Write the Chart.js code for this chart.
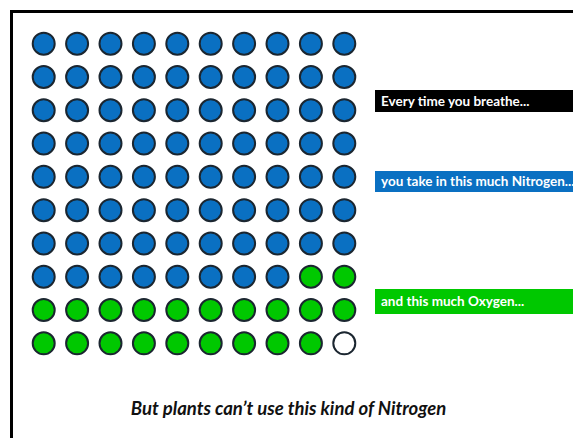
<!DOCTYPE html>
<html>
<head>
<meta charset="utf-8">
<script src="https://cdn.jsdelivr.net/npm/chart.js@4.4.1/dist/chart.umd.min.js"></script>
<style>
  html, body { margin: 0; padding: 0; background: #fff; }
  body { width: 573px; height: 438px; position: relative; overflow: hidden; font-family: Lato, "Open Sans", sans-serif; }
  #frame { position: absolute; left: 10px; top: 10px; width: 600px; height: 460px; border: 3px solid #000; box-sizing: border-box; }
  #wrap { position: absolute; left: 27px; top: 27px; width: 334px; height: 333px; }
  .lbl { position: absolute; left: 375px; right: 0; color: #fff; font-weight: 700; font-size: 13.5px; white-space: nowrap; overflow: hidden; box-sizing: border-box; padding-left: 6px; }
  #caption { position: absolute; left: 0; width: 573px; top: 397px; text-align: center; font-weight: 700; font-style: italic; font-size: 18.5px; color: #111; padding-left: 4px; box-sizing: border-box; }
</style>
</head>
<body>
<div id="frame"></div>
<div id="wrap"><canvas id="c"></canvas></div>
<div class="lbl" id="l0"></div>
<div class="lbl" id="l1"></div>
<div class="lbl" id="l2"></div>
<div id="caption"></div>
<script>
// ---- data ----
const categories = ["Nitrogen", "Oxygen", "Other"];
const counts = [78, 21, 1];
const colors = ["#0a70c2", "#00c800", "#ffffff"];
const gridCols = 10;
const gridRows = 10;
const labels = ["Every time you breathe...", "you take in this much Nitrogen...", "and this much Oxygen..."];
const labelColors = ["#000000", "#0a70c2", "#00c800"];
const labelTops = [90, 171, 289];
const labelHeights = [22, 21, 25];
const caption = "But plants can\u2019t use this kind of Nitrogen";

// build grid points from counts (row-major, top-left first)
const datasets = [];
let idx = 0;
categories.forEach((cat, ci) => {
  const pts = [];
  for (let k = 0; k < counts[ci]; k++) {
    const col = idx % gridCols;
    const row = Math.floor(idx / gridCols);
    pts.push({ x: col, y: row });
    idx++;
  }
  datasets.push({
    label: cat,
    data: pts,
    backgroundColor: colors[ci],
    borderColor: "#1b2630",
    borderWidth: 2,
    pointRadius: 11,
    pointHoverRadius: 11
  });
});

new Chart(document.getElementById("c"), {
  type: "scatter",
  data: { datasets },
  options: {
    responsive: true,
    maintainAspectRatio: false,
    animation: false,
    layout: { padding: 0, autoPadding: false },
    plugins: { legend: { display: false }, tooltip: { enabled: false } },
    scales: {
      x: { type: "linear", min: -0.5, max: gridCols - 0.5, display: false },
      y: { type: "linear", min: -0.5, max: gridRows - 0.5, reverse: true, display: false }
    }
  }
});

labels.forEach((t, i) => {
  const el = document.getElementById("l" + i);
  el.textContent = t;
  el.style.background = labelColors[i];
  el.style.top = labelTops[i] + "px";
  el.style.height = labelHeights[i] + "px";
  el.style.lineHeight = labelHeights[i] + "px";
});
document.getElementById("caption").textContent = caption;
</script>
</body>
</html>
